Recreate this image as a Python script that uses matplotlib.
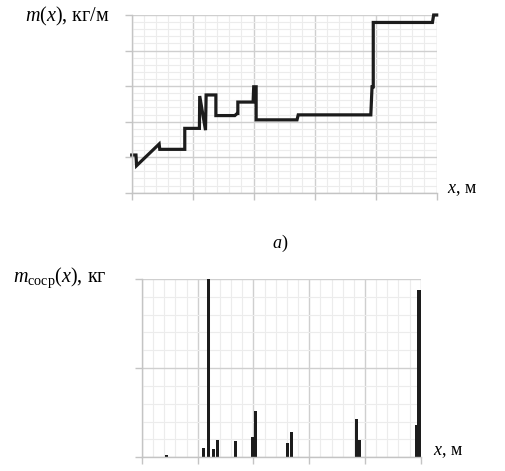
import matplotlib
matplotlib.use("Agg")
import matplotlib.pyplot as plt
from matplotlib.ticker import MultipleLocator

plt.rcParams['font.family'] = ['Liberation Serif', 'DejaVu Serif']
plt.rcParams['mathtext.fontset'] = 'custom'
plt.rcParams['mathtext.rm'] = 'Liberation Serif'
plt.rcParams['mathtext.it'] = 'Liberation Serif:italic'

# Top chart: step-like mass per length m(x)
line_x = [0, 0.7, 0.8, 4.5, 4.6, 8.7, 8.7, 11.1, 11.15, 12.1, 12.2, 13.8, 13.8,
          16.9, 17.3, 17.4, 17.4, 19.9, 20.0, 20.4, 20.4, 27.1, 27.3, 39.2,
          39.4, 39.6, 39.6, 49.3, 49.5, 50]
line_y = [1.06, 1.06, 0.76, 1.37, 1.22, 1.22, 1.81, 1.81, 2.72, 1.76, 2.75, 2.75, 2.17,
          2.17, 2.23, 2.23, 2.55, 2.55, 2.98, 2.98, 2.05, 2.05, 2.19, 2.19,
          2.98, 2.98, 4.79, 4.79, 5.0, 5.0]

# Bottom chart: concentrated masses
bar_x = [4.43, 11.0, 12.0, 12.8, 13.6, 16.8, 19.8, 20.4, 26.1, 26.8, 38.4, 39.0, 49.2, 49.7]
bar_h = [0.03, 0.10, 2.00, 0.09, 0.19, 0.18, 0.23, 0.52, 0.16, 0.28, 0.43, 0.19, 0.36, 1.88]

W, H = 505, 471
fig = plt.figure(figsize=(W / 100, H / 100), dpi=100)

major_c = '#cfcfcf'
minor_c = '#ececec'


def style(ax, ymax, ymaj):
    ax.set_xlim(0, 50)
    ax.set_ylim(0, ymax)
    ax.xaxis.set_major_locator(MultipleLocator(10))
    ax.xaxis.set_minor_locator(MultipleLocator(2))
    ax.yaxis.set_major_locator(MultipleLocator(ymaj))
    ax.yaxis.set_minor_locator(MultipleLocator(ymaj / 5))
    ax.grid(which='major', color=major_c, lw=1.0)
    ax.grid(which='minor', color=minor_c, lw=0.8)
    ax.set_axisbelow(True)
    for s in ['top', 'right']:
        ax.spines[s].set_visible(False)
    for s in ['left', 'bottom']:
        ax.spines[s].set_color('#c4c4c4')
        ax.spines[s].set_linewidth(1.0)
    ax.tick_params(which='major', length=5, color='#c4c4c4', width=1.0,
                   labelbottom=False, labelleft=False, direction='out')
    ax.tick_params(which='minor', length=0)


ax1 = fig.add_axes([131.7 / W, 1 - 192.7 / H, 305 / W, 177.7 / H])
style(ax1, 5, 1)
ax1.plot(line_x, line_y, color='#1c1c1c', lw=2.3, solid_joinstyle='miter', clip_on=False)

ax2 = fig.add_axes([142 / W, 1 - 457.3 / H, 278.7 / W, 178.3 / H])
style(ax2, 2, 1)
ax2.bar(bar_x, bar_h, width=0.55, color='#1c1c1c', clip_on=False)

fig.text(25 / W, 1 - 16 / H, r'$m(x)$, кг/м', fontsize=14.5, va='center', ha='left')
fig.text(447 / W, 1 - 190 / H, r'$x$, м', fontsize=13, va='center', ha='left')
fig.text(280 / W, 1 - 243 / H, r'$a$)', fontsize=13, va='center', ha='center')
fig.text(13 / W, 1 - 278 / H, r'$m_{\mathrm{сосp}}(x)$, кг', fontsize=14.5, va='center', ha='left')
fig.text(433 / W, 1 - 452 / H, r'$x$, м', fontsize=13, va='center', ha='left')

fig.savefig('out.png', dpi=100)
